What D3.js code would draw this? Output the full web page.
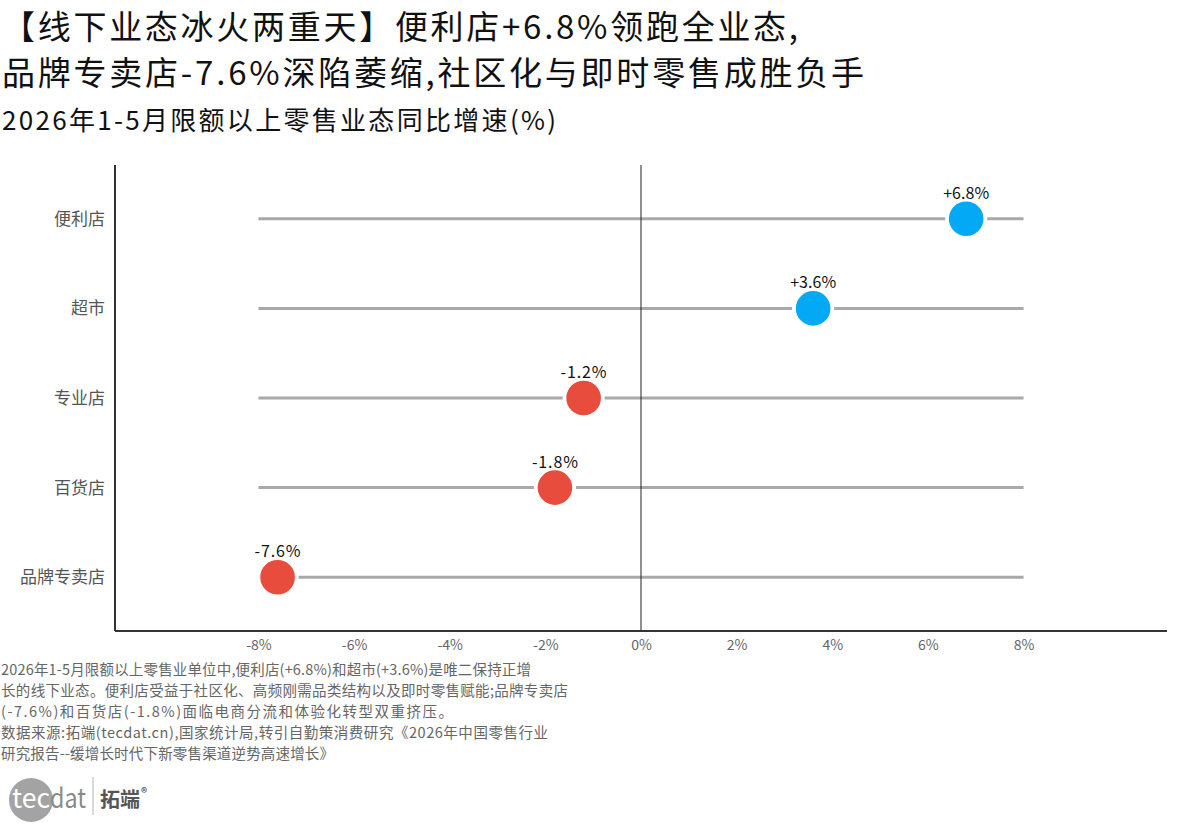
<!DOCTYPE html>
<html>
<head>
<meta charset="utf-8">
<script src="https://cdn.jsdelivr.net/npm/d3@7"></script>
<style>
  html, body { margin: 0; padding: 0; background: #fff; }
  svg { display: block; }
  text { font-family: "Noto Sans CJK SC", "Noto Sans", sans-serif; }
</style>
</head>
<body>
<svg id="chart" width="1184" height="829"></svg>
<script>
// ---- data ----
const categories = ["便利店", "超市", "专业店", "百货店", "品牌专卖店"];
const growth = [6.8, 3.6, -1.2, -1.8, -7.6];
const valueLabels = ["+6.8%", "+3.6%", "-1.2%", "-1.8%", "-7.6%"];
const xTicks = [-8, -6, -4, -2, 0, 2, 4, 6, 8];
const xTickLabels = ["-8%", "-6%", "-4%", "-2%", "0%", "2%", "4%", "6%", "8%"];
const titleLines = [
  "【线下业态冰火两重天】便利店+6.8%领跑全业态,",
  "品牌专卖店-7.6%深陷萎缩,社区化与即时零售成胜负手"
];
const subtitle = "2026年1-5月限额以上零售业态同比增速(%)";
const noteLines = [
  "2026年1-5月限额以上零售业单位中,便利店(+6.8%)和超市(+3.6%)是唯二保持正增",
  "长的线下业态。便利店受益于社区化、高频刚需品类结构以及即时零售赋能;品牌专卖店",
  "(-7.6%)和百货店(-1.8%)面临电商分流和体验化转型双重挤压。",
  "数据来源:拓端(tecdat.cn),国家统计局,转引自勤策消费研究《2026年中国零售行业",
  "研究报告--缓增长时代下新零售渠道逆势高速增长》"
];

const data = categories.map((c, i) => ({ cat: c, v: growth[i], label: valueLabels[i] }));

const svg = d3.select("#chart");

// ---- titles ----
const titleWidths = [796, 862];
const titleBaselines = [39, 85];
svg.append("g").selectAll("text").data(titleLines).join("text")
  .attr("x", 2).attr("y", (d, i) => titleBaselines[i])
  .attr("font-size", 33).attr("fill", "#111")
  .attr("textLength", (d, i) => titleWidths[i])
  .attr("lengthAdjust", "spacing")
  .text(d => d);

svg.append("text")
  .attr("x", 2).attr("y", 130)
  .attr("font-size", 26).attr("fill", "#111")
  .attr("textLength", 554).attr("lengthAdjust", "spacing")
  .text(subtitle);

// ---- scales ----
const x = d3.scaleLinear().domain([-11, 11]).range([115, 1167]);
const y = d3.scalePoint().domain(categories).range([165, 631]).padding(0.6);

const blue = "#03a9f4";
const red = "#e74c3c";

// gray track lines
svg.append("g").selectAll("line").data(data).join("line")
  .attr("x1", x(-8)).attr("x2", x(8))
  .attr("y1", d => y(d.cat)).attr("y2", d => y(d.cat))
  .attr("stroke", "#a9a9a9").attr("stroke-width", 3);

// zero line
svg.append("line")
  .attr("x1", x(0)).attr("x2", x(0)).attr("y1", 165).attr("y2", 631)
  .attr("stroke", "#222").attr("stroke-width", 1);

// left axis
const yAxis = d3.axisLeft(y).tickSize(0).tickPadding(10);
const gy = svg.append("g").attr("transform", "translate(115,0)").call(yAxis);
gy.select(".domain").attr("stroke", "#333").attr("stroke-width", 2)
  .attr("d", "M0,165V631");
gy.selectAll("text").attr("font-size", 17).attr("fill", "#555")
  .attr("font-family", "Noto Sans CJK SC");

// bottom axis
const xAxis = d3.axisBottom(x).tickValues(xTicks)
  .tickFormat((d, i) => xTickLabels[i]).tickSize(0).tickPadding(9);
const gx = svg.append("g").attr("transform", "translate(0,631)").call(xAxis);
gx.select(".domain").attr("stroke", "#333").attr("stroke-width", 2)
  .attr("d", "M115,0H1167");
gx.selectAll("text").attr("font-size", 14).attr("fill", "#666")
  .attr("font-family", "Noto Sans CJK SC");

// dots
svg.append("g").selectAll("circle").data(data).join("circle")
  .attr("cx", d => x(d.v)).attr("cy", d => y(d.cat))
  .attr("r", 19.2)
  .attr("fill", d => d.v >= 0 ? blue : red)
  .attr("stroke", "#fff").attr("stroke-width", 3.8);

// value labels
svg.append("g").selectAll("text").data(data).join("text")
  .attr("x", d => x(d.v)).attr("y", d => y(d.cat) - 20)
  .attr("text-anchor", "middle")
  .attr("font-size", 16).attr("fill", "#111")
  .attr("textLength", 46).attr("lengthAdjust", "spacing")
  .text(d => d.label);

// ---- footnote ----
const noteWidths = [530, 567, 452, 547, 333];
svg.append("g").selectAll("text").data(noteLines).join("text")
  .attr("x", 1).attr("y", (d, i) => 675 + i * 21)
  .attr("font-size", 14.5).attr("fill", "#666")
  .attr("textLength", (d, i) => noteWidths[i]).attr("lengthAdjust", "spacing")
  .text(d => d);

// ---- logo ----
const logo = svg.append("g");
logo.append("circle").attr("cx", 31).attr("cy", 800).attr("r", 22).attr("fill", "#a3a3a3");
logo.append("text").attr("x", 12).attr("y", 808)
  .attr("font-family", "Roboto, sans-serif").attr("font-size", 27)
  .attr("fill", "#fff").attr("textLength", 38).attr("lengthAdjust", "spacingAndGlyphs")
  .text("tec");
logo.append("text").attr("x", 50).attr("y", 808)
  .attr("font-family", "Roboto, sans-serif").attr("font-size", 27)
  .attr("fill", "#8a8a8a")
  .attr("textLength", 36).attr("lengthAdjust", "spacingAndGlyphs")
  .text("dat");
logo.append("line").attr("x1", 93).attr("x2", 93).attr("y1", 777).attr("y2", 815)
  .attr("stroke", "#ccc").attr("stroke-width", 1.5);
logo.append("text").attr("x", 100).attr("y", 807)
  .attr("font-size", 20).attr("font-weight", "bold").attr("fill", "#555")
  .text("拓端");
logo.append("text").attr("x", 141).attr("y", 797)
  .attr("font-size", 12).attr("font-weight", "bold").attr("fill", "#555")
  .text("®");
</script>
</body>
</html>
